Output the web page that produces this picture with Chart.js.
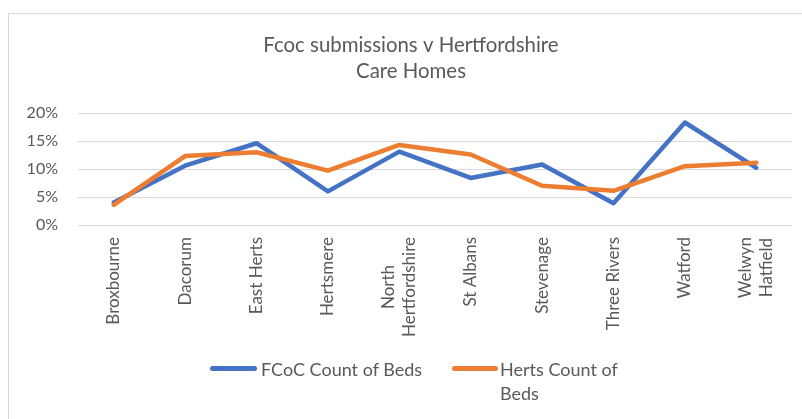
<!DOCTYPE html>
<html>
<head>
<meta charset="utf-8">
<script src="https://cdn.jsdelivr.net/npm/chart.js@4/dist/chart.umd.min.js"></script>
<style>
  html, body { margin: 0; padding: 0; background: #fff; }
  #wrap { position: relative; width: 802px; height: 419px; overflow: hidden; }
  #frame { position: absolute; left: 8px; top: 13px; width: 900px; height: 500px; border: 1px solid #d9d9d9; box-sizing: border-box; }
  canvas { position: absolute; left: 0; top: 0; }
  .leg { position: absolute; font-family: Lato, sans-serif; font-size: 18px; color: #595959; line-height: 24px; white-space: nowrap; }
  .swatch { position: absolute; height: 5px; border-radius: 3px; }
</style>
</head>
<body>
<div id="wrap">
  <div id="frame"></div>
  <canvas id="c" width="802" height="419"></canvas>
  <div class="swatch" style="left:210px; top:366px; width:47px; background:#4472C4;"></div>
  <div class="leg" style="left:261px; top:357px;">FCoC Count of Beds</div>
  <div class="swatch" style="left:452px; top:366px; width:46px; background:#ED7D31;"></div>
  <div class="leg" style="left:500px; top:357px;">Herts Count of<br>Beds</div>
</div>
<script>
const categories = ['Broxbourne', 'Dacorum', 'East Herts', 'Hertsmere', ['North', 'Hertfordshire'], 'St Albans', 'Stevenage', 'Three Rivers', 'Watford', ['Welwyn', 'Hatfield']];
const fcocCountOfBeds = [4.0, 10.6, 14.6, 6.0, 13.1, 8.4, 10.8, 3.9, 18.3, 10.2];
const hertsCountOfBeds = [3.6, 12.3, 13.0, 9.7, 14.3, 12.6, 7.0, 6.1, 10.5, 11.1];
const yTicks = [0, 5, 10, 15, 20];
const titleLines = ['Fcoc submissions v Hertfordshire', 'Care Homes'];

const grey = '#595959';

// Chart title, centred on the chart frame (which is offset from the canvas).
const frameTitle = {
  id: 'frameTitle',
  afterDraw(chart) {
    const ctx = chart.ctx;
    ctx.save();
    ctx.font = '20.4px Lato';
    ctx.fillStyle = grey;
    ctx.textAlign = 'center';
    ctx.textBaseline = 'middle';
    titleLines.forEach((t, i) => ctx.fillText(t, 411, 45 + i * 26.6));
    ctx.restore();
  }
};

// Draws rotated category labels like Excel: top-aligned block, lines centred on each other.
const excelXLabels = {
  id: 'excelXLabels',
  afterDraw(chart) {
    const xs = chart.scales.x;
    const ctx = chart.ctx;
    const gap = 12, lineSpacing = 21;
    ctx.save();
    ctx.font = '17px Lato';
    ctx.fillStyle = grey;
    ctx.textAlign = 'center';
    ctx.textBaseline = 'middle';
    chart.data.labels.forEach((lab, i) => {
      const lines = Array.isArray(lab) ? lab : [lab];
      const w = Math.max(...lines.map(l => ctx.measureText(l).width));
      const px = xs.getPixelForValue(i);
      const cy = chart.chartArea.bottom + gap + w / 2;
      lines.forEach((l, j) => {
        const lx = px + (j - (lines.length - 1) / 2) * lineSpacing;
        ctx.save();
        ctx.translate(lx, cy);
        ctx.rotate(-Math.PI / 2);
        ctx.fillText(l, 0, 0);
        ctx.restore();
      });
    });
    ctx.restore();
  }
};

new Chart(document.getElementById('c'), {
  type: 'line',
  data: {
    labels: categories,
    datasets: [
      { label: 'FCoC Count of Beds', data: fcocCountOfBeds, borderColor: '#4472C4', backgroundColor: '#4472C4', borderWidth: 4.5, pointRadius: 0, tension: 0, borderCapStyle: 'round', borderJoinStyle: 'round', order: 2 },
      { label: 'Herts Count of Beds', data: hertsCountOfBeds, borderColor: '#ED7D31', backgroundColor: '#ED7D31', borderWidth: 4.5, pointRadius: 0, tension: 0, borderCapStyle: 'round', borderJoinStyle: 'round', order: 1 }
    ]
  },
  plugins: [excelXLabels, frameTitle],
  options: {
    responsive: false,
    animation: false,
    layout: { padding: { left: 18, right: 10, top: 113, bottom: 84 } },
    plugins: {
      legend: { display: false },
      tooltip: { enabled: false },
      title: { display: false }
    },
    scales: {
      x: {
        offset: true,
        grid: { display: false },
        border: { display: false },
        ticks: { display: false, autoSkip: false },
        afterFit: s => { s.height = 110; }
      },
      y: {
        min: 0,
        max: 20,
        grid: { color: '#d9d9d9', lineWidth: 1, drawTicks: false },
        border: { display: false },
        afterBuildTicks: s => { s.ticks = yTicks.map(v => ({ value: v })); },
        ticks: {
          color: grey,
          font: { family: 'Lato', size: 16 },
          padding: 20,
          callback: v => v + '%'
        },
        afterFit: s => { s.width = 60; }
      }
    }
  }
});
</script>
</body>
</html>
